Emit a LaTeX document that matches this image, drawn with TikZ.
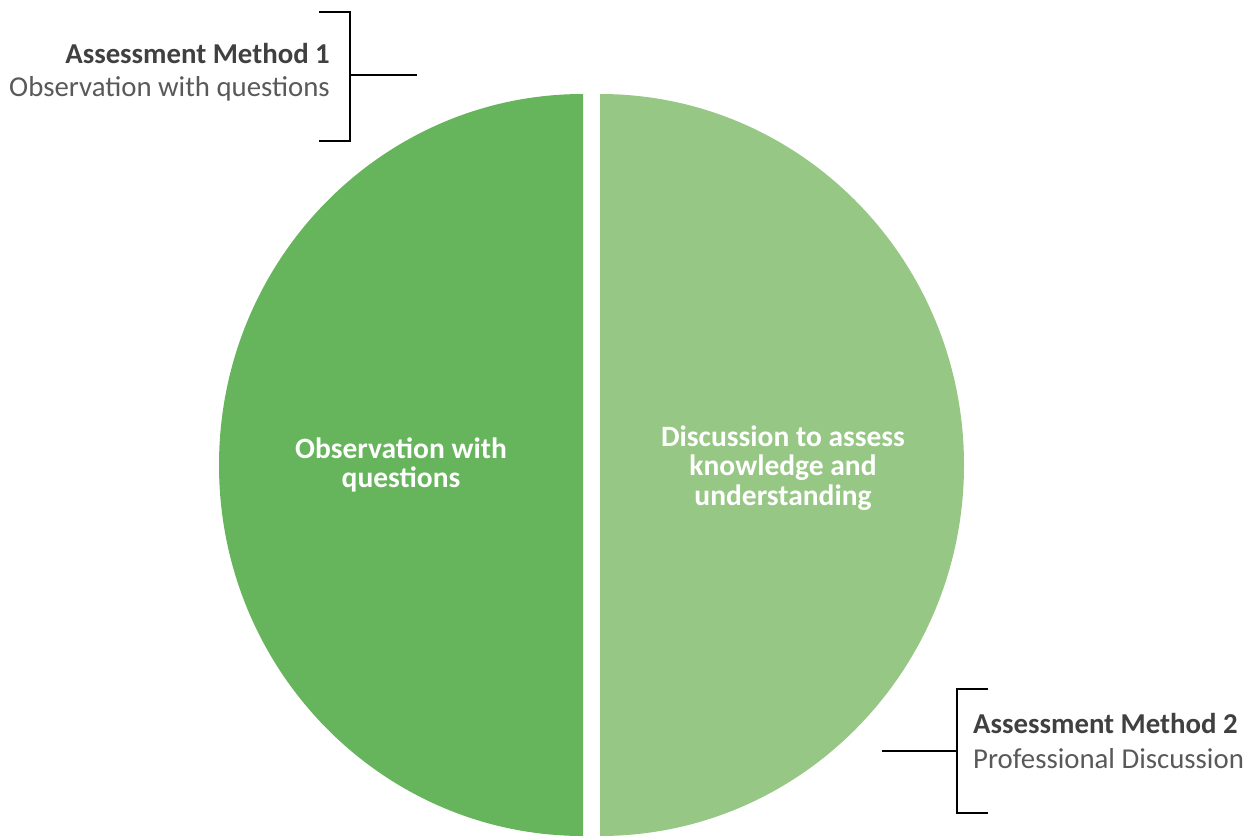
\documentclass[tikz,border=0pt]{standalone}
\usepackage{fontspec}
\setmainfont{Carlito}
\definecolor{darkgreen}{HTML}{66B45B}
\definecolor{lightgreen}{HTML}{97C785}
\definecolor{headgray}{HTML}{404040}
\definecolor{subgray}{HTML}{595959}
\begin{document}
\begin{tikzpicture}[x=1pt, y=-1pt,
    lbl/.style={inner sep=0pt, font=\fontsize{28.8}{33}\selectfont},
    inner/.style={text=white, align=center, font=\fontsize{29.5}{29.5}\selectfont\bfseries},
    bracket/.style={line width=2.8pt}]
  \useasboundingbox (0,0) rectangle (1255,837);
  % the two halves
  \fill [darkgreen] (583,94) arc [start angle=-90, end angle=-270, x radius=364, y radius=371] -- cycle;
  \fill [lightgreen] (600,94) arc [start angle=-90, end angle=90, x radius=364, y radius=371] -- cycle;
  \node [inner] (obs) at (401,465) {Observation with\\questions};
  \node [inner] (disc) at (783,468) {Discussion to assess\\knowledge and\\understanding};
  % method 1
  \coordinate (b1top) at (319,12);
  \coordinate (b1bot) at (319,141);
  \coordinate (b1mid) at (350,75);
  \coordinate (b1end) at (417,75);
  \draw [bracket] (b1top) -- (350,12) -- (350,141) -- (b1bot);
  \draw [bracket] (b1mid) -- (b1end);
  \node [lbl, anchor=base east, text=headgray] (m1) at (330,64) {\bfseries Assessment Method 1};
  \node [lbl, anchor=base east, text=subgray] (m1sub) at (330,97) {Observation with questions};
  % method 2
  \coordinate (b2top) at (988,689);
  \coordinate (b2bot) at (988,813);
  \coordinate (b2mid) at (957,751);
  \coordinate (b2end) at (882,751);
  \draw [bracket] (b2top) -- (957,689) -- (957,813) -- (b2bot);
  \draw [bracket] (b2mid) -- (b2end);
  \node [lbl, anchor=base west, text=headgray] (m2) at (973,733) {\bfseries Assessment Method 2};
  \node [lbl, anchor=base west, text=subgray] (m2sub) at (973,768) {Professional Discussion};
\end{tikzpicture}
\end{document}
